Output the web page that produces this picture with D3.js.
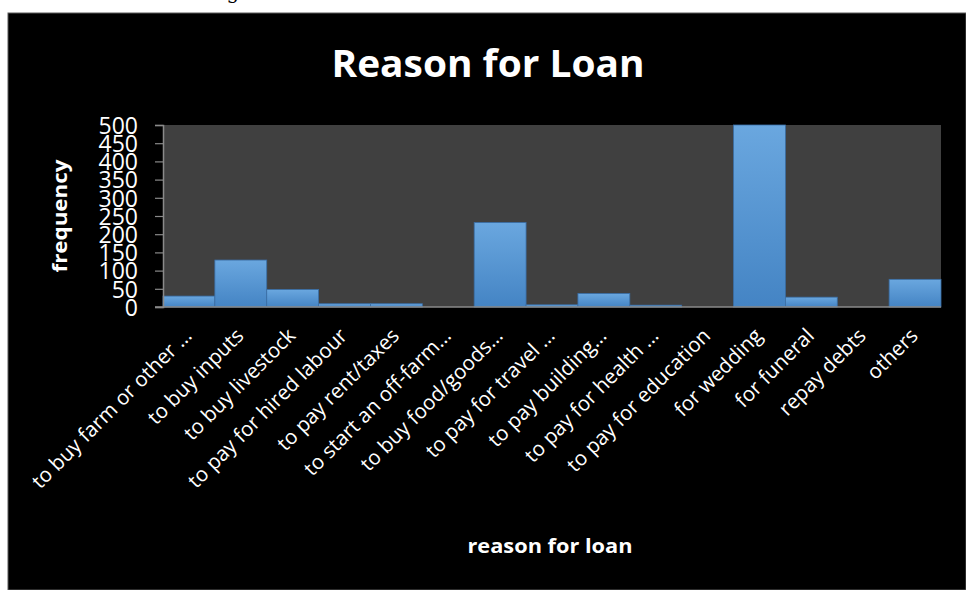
<!DOCTYPE html>
<html>
<head>
<meta charset="utf-8"/>
<title>Reason for Loan</title>
<style>
body { margin: 0; background: #fff; }
text { font-family: "Open Sans", sans-serif; fill: #fff; }
</style>
<script src="https://d3js.org/d3.v7.min.js"></script>
</head>
<body>
<div id="chart"></div>
<script>
// categories and frequencies
var reasons = ["to buy farm or other …", "to buy inputs", "to buy livestock",
  "to pay for hired labour", "to pay rent/taxes", "to start an off-farm…",
  "to buy food/goods…", "to pay for travel …", "to pay building…",
  "to pay for health …", "to pay for education", "for wedding",
  "for funeral", "repay debts", "others"]
var frequency = [30, 129, 48, 9, 9, 0, 232, 6, 37, 5, 0, 500, 27, 0, 76]
var yTicks = [0, 50, 100, 150, 200, 250, 300, 350, 400, 450, 500]

var width = 966, height = 590
var plot = {left: 163, top: 125, right: 941, bottom: 307}

var svg = d3.select("#chart").append("svg")
  .attr("width", width)
  .attr("height", height)

// black slide panel
svg.append("rect")
  .attr("x", 8).attr("y", 13)
  .attr("width", width - 8).attr("height", height - 13)
  .attr("fill", "#000")
  .attr("stroke", "#5a5a5a")

// cut-off caption above the panel
svg.append("text")
  .attr("x", 233).attr("y", -1)
  .attr("text-anchor", "middle")
  .style("font-family", "'DejaVu Serif', serif")
  .style("font-size", "20px")
  .style("fill", "#000")
  .text("g")

var defs = svg.append("defs")
var grad = defs.append("linearGradient")
  .attr("id", "barfill")
  .attr("x1", 0).attr("y1", 0).attr("x2", 0).attr("y2", 1)
grad.append("stop").attr("offset", "0%").attr("stop-color", "#6aa7df")
grad.append("stop").attr("offset", "100%").attr("stop-color", "#4484c4")

var x = d3.scaleBand()
  .domain(reasons)
  .range([plot.left, plot.right])
  .padding(0)

var y = d3.scaleLinear()
  .domain([0, 500])
  .range([plot.bottom, plot.top])

// plot area
svg.append("rect")
  .attr("x", plot.left).attr("y", plot.top)
  .attr("width", plot.right - plot.left)
  .attr("height", plot.bottom - plot.top)
  .attr("fill", "#404040")

// bars
svg.selectAll(".bar")
  .data(frequency)
  .enter()
  .append("rect")
  .attr("class", "bar")
  .attr("x", function(d, i) { return x(reasons[i]) })
  .attr("y", function(d) { return y(d) })
  .attr("width", x.bandwidth())
  .attr("height", function(d) { return y(0) - y(d) })
  .attr("fill", "url(#barfill)")
  .attr("stroke", "#3a6ea6")
  .attr("stroke-width", 0.8)

// y axis (labels overlap, as in the original)
var yAxis = svg.append("g")
  .attr("transform", "translate(" + plot.left + ",0)")
  .call(d3.axisLeft(y).tickValues(yTicks).tickSize(8).tickPadding(17))
yAxis.select(".domain").attr("stroke", "#8a8a8a").attr("stroke-width", 1.5)
yAxis.selectAll(".tick line").attr("stroke", "#8a8a8a").attr("stroke-width", 1.2)
yAxis.selectAll(".tick text")
  .attr("fill", "#fff")
  .attr("dy", "0.36em")
  .style("font-family", "'Open Sans', sans-serif")
  .style("font-size", "23px")

// x axis
var xAxis = svg.append("g")
  .attr("transform", "translate(0," + plot.bottom + ")")
  .call(d3.axisBottom(x).tickSize(0).tickSizeOuter(0).tickFormat(""))
xAxis.select(".domain")
  .attr("d", "M" + (plot.left - 8) + ",0H" + plot.right)
  .attr("stroke", "#8a8a8a").attr("stroke-width", 1.5)

svg.append("g").selectAll("text")
  .data(reasons)
  .enter()
  .append("text")
  .attr("text-anchor", "end")
  .attr("transform", function(d) {
    return "translate(" + (x(d) + x.bandwidth() / 2 + 4) + "," + (plot.bottom + 30) + ") rotate(-45)"
  })
  .style("font-size", "20.5px")
  .text(function(d) { return d })

// titles
svg.append("text")
  .attr("x", 488).attr("y", 77)
  .attr("text-anchor", "middle")
  .style("font-size", "38px")
  .style("font-weight", "bold")
  .attr("textLength", 313)
  .attr("lengthAdjust", "spacingAndGlyphs")
  .text("Reason for Loan")

svg.append("text")
  .attr("transform", "translate(67,216) rotate(-90)")
  .attr("text-anchor", "middle")
  .style("font-size", "20px")
  .style("font-weight", "bold")
  .attr("textLength", 113)
  .attr("lengthAdjust", "spacingAndGlyphs")
  .text("frequency")

svg.append("text")
  .attr("x", 550).attr("y", 553)
  .attr("text-anchor", "middle")
  .style("font-size", "20px")
  .style("font-weight", "bold")
  .attr("textLength", 165)
  .attr("lengthAdjust", "spacingAndGlyphs")
  .text("reason for loan")
</script>
</body>
</html>
